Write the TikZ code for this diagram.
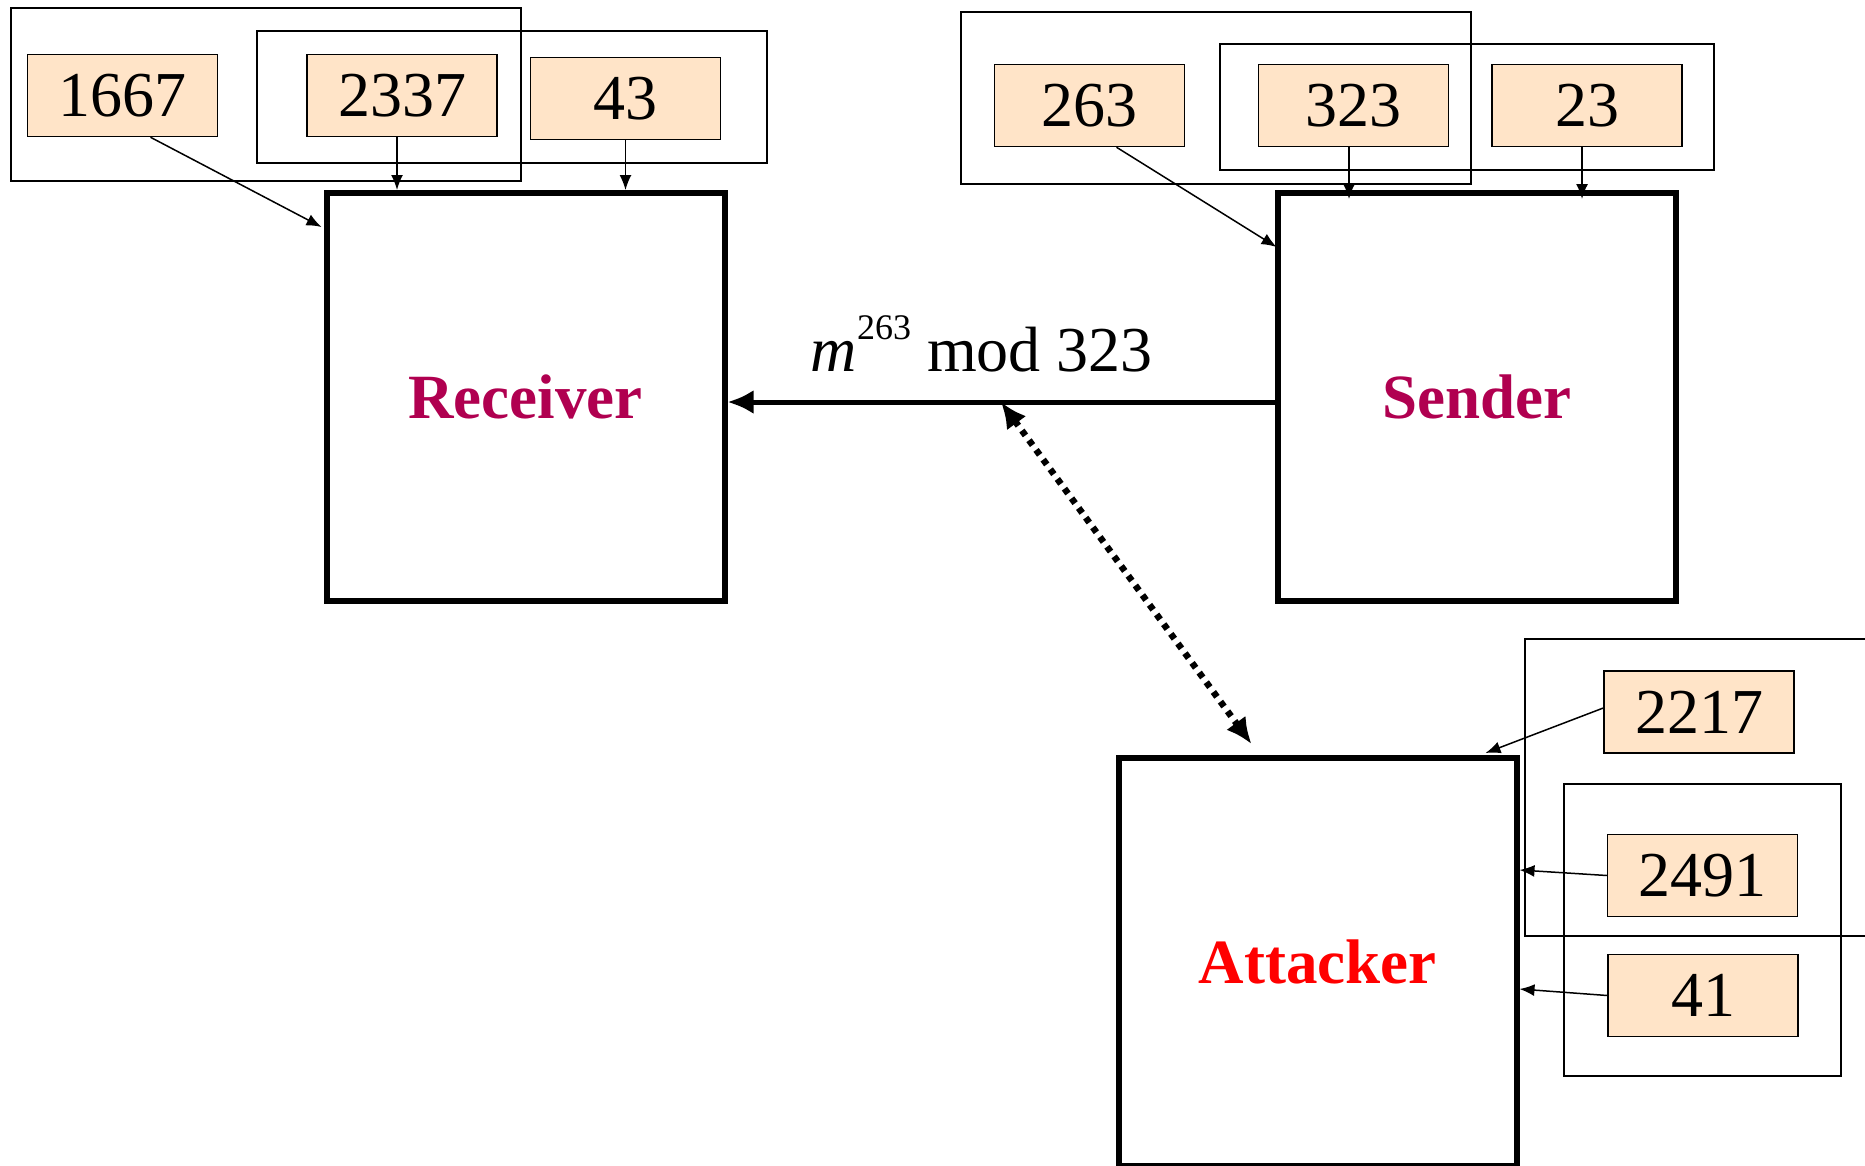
\documentclass[tikz,border=0pt]{standalone}
\usepackage{fontspec}
\setmainfont{Liberation Serif}
\usetikzlibrary{arrows.meta,calc}
\definecolor{keyfill}{RGB}{255,228,200}
\definecolor{partycol}{RGB}{176,0,80}
\definecolor{attackcol}{RGB}{255,0,0}

\begin{document}
\begin{tikzpicture}[x=1pt,y=-1pt,
  keybox/.style={draw, line width=1.5pt, fill=keyfill, minimum width=190pt,
    minimum height=82pt, inner sep=0pt, font=\fontsize{64}{76}\selectfont},
  groupbox/.style={draw, line width=1.5pt},
  party/.style={draw, line width=6pt, inner sep=0pt, minimum width=398pt,
    minimum height=408pt, font=\bfseries\fontsize{63}{75}\selectfont},
  feed/.style={line width=1.5pt, -{Latex[length=15pt,width=12pt]}},
]
\useasboundingbox (0,0) rectangle (1865,1165);
\clip (0,0) rectangle (1865,1165);

% receiver side: key groups and keys
\draw[groupbox] (11,8) rectangle (521,181);
\draw[groupbox] (257,31) rectangle (767,163);
\node[keybox] (k1667) at (122.5,95.5) {1667};
\node[keybox] (k2337) at (402,95.5) {2337};
\node[keybox] (k43)   at (625.5,98.5) {43};
\node[party, text=partycol] (rcv) at (525.5,397) {Receiver};

% sender side
\draw[groupbox] (961,12) rectangle (1471,184);
\draw[groupbox] (1220,44) rectangle (1714,170);
\node[keybox] (k263) at (1089.5,105.5) {263};
\node[keybox] (k323) at (1353.5,105.5) {323};
\node[keybox] (k23)  at (1587,105.5) {23};
\node[party, text=partycol] (snd) at (1476.5,397) {Sender};

% attacker side
\draw[groupbox] (1525,639) rectangle (1900,936);
\draw[groupbox] (1564,784) rectangle (1841,1076);
\node[keybox] (k2217) at (1699,712) {2217};
\node[keybox] (k2491) at (1702.5,875.5) {2491};
\node[keybox] (k41)   at (1703,995.5) {41};
\node[party, text=attackcol] (atk) at (1317.5,962) {Attacker};

% key inputs
\draw[feed] ($(k1667.south)+(28,0)$) -- ($(rcv.north west)+(-2,37)$);
\draw[feed] (k2337.south -| 397,0) -- (397,190);
\draw[feed] (k43.south) -- (k43.south |- rcv.north);
\draw[feed] ($(k263.south)+(27,0)$) -- ($(snd.north west)+(2,57)$);
\draw[feed] (k323.south -| 1349,0) -- (1349,199);
\draw[feed] (k23.south -| 1582,0) -- (1582,199);
\draw[feed] ($(k2217.west)+(0,-4)$) -- ($(atk.north east)+(-34,-2)$);
\draw[feed] (k2491.west) -- ($(atk.east)+(0,-92)$);
\draw[feed] (k41.west) -- ($(atk.east)+(0,27)$);

% ciphertext channel
\coordinate (src) at ($(snd.west)+(0,5)$);
\coordinate (dst) at ($(rcv.east)+(0,5)$);
\draw[line width=5pt, -{Latex[length=26pt,width=24pt]}] (src) -- (dst);
\node[font=\fontsize{64}{76}\selectfont, anchor=base] (cipher)
  at ($(src)!0.535!(dst)+(0,-31)$)
  {\itshape m\/\normalfont\raisebox{0.5em}{\fontsize{36}{40}\selectfont 263} mod 323};
\coordinate (tap) at ($(dst)!0.5!(src)$);
\draw[line width=6.5pt, dash pattern=on 6pt off 6pt,
  {Latex[length=26pt,width=24pt]}-{Latex[length=26pt,width=24pt]}]
  (tap) -- ($(atk.north)+(-66,-11)$);
\end{tikzpicture}
\end{document}
